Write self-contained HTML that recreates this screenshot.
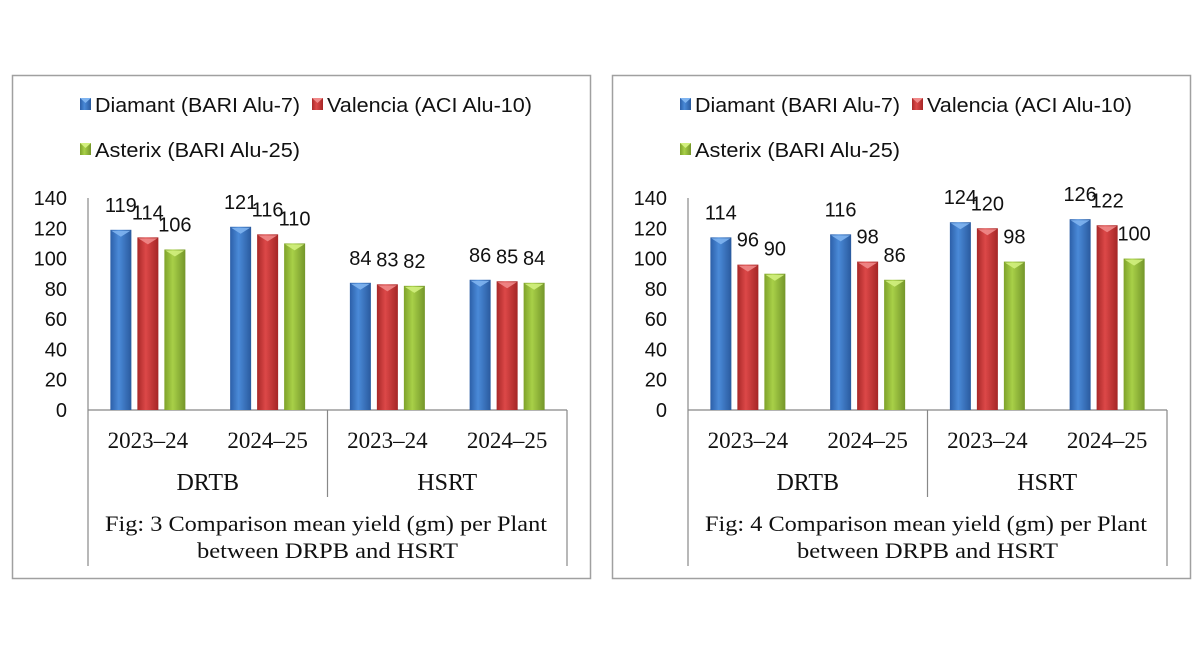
<!DOCTYPE html>
<html><head><meta charset="utf-8"><style>
body{margin:0;background:#fff;width:1201px;height:651px;overflow:hidden;}
svg{display:block}
</style></head><body>
<svg id="s" width="1201" height="651" xmlns="http://www.w3.org/2000/svg">
<defs>
<linearGradient id="gb" x1="0" x2="1"><stop offset="0" stop-color="#2c5fa8"/><stop offset="0.4" stop-color="#4a8ad8"/><stop offset="1" stop-color="#2a5a9e"/></linearGradient>
<linearGradient id="gr" x1="0" x2="1"><stop offset="0" stop-color="#a82828"/><stop offset="0.4" stop-color="#dc4848"/><stop offset="1" stop-color="#a52626"/></linearGradient>
<linearGradient id="gg" x1="0" x2="1"><stop offset="0" stop-color="#7ea22a"/><stop offset="0.4" stop-color="#a8d048"/><stop offset="1" stop-color="#74962a"/></linearGradient>
</defs>
</svg>
<script>
const years=["2023–24","2024–25","2023–24","2024–25"];
const groups=["DRTB","HSRT"];
const seriesNames=["Diamant (BARI Alu-7)","Valencia (ACI Alu-10)","Asterix (BARI Alu-25)"];
const fig3Diamant=[119,121,84,86];
const fig3Valencia=[114,116,83,85];
const fig3Asterix=[106,110,82,84];
const fig4Diamant=[114,116,124,126];
const fig4Valencia=[96,98,120,122];
const fig4Asterix=[90,86,98,100];
const yTicks=[0,20,40,60,80,100,120,140];
const captions=["Fig: 3 Comparison  mean yield (gm) per Plant","Fig: 4 Comparison  mean yield (gm) per Plant"];

const NS="http://www.w3.org/2000/svg";
const svg=document.getElementById('s');
function mk(t,a,p){const e=document.createElementNS(NS,t);for(const k in a)e.setAttribute(k,a[k]);(p||svg).appendChild(e);return e;}
const grads=["url(#gb)","url(#gr)","url(#gg)"];
const tops=["#7fb4f0","#f08a8a","#d2ef7e"];
const SANS='"Liberation Sans", sans-serif', SERIF='"Liberation Serif", serif';

function chart(ox,data,cap,id){
  const g=mk('g',{transform:`translate(${ox},0)`});
  
  
  const border=mk('rect',{x:12.5,y:75.5,width:578,height:503,fill:'none',stroke:'#a0a0a0','stroke-width':1.5},g);
  
  
  const y0=410,y1=198,x0=88,x1=567;
  const ys=v=>y0-(v/140)*(y0-y1);
  const cw=(x1-x0)/years.length;
  const lp=[[80,107],[312,107],[80,152]];
  seriesNames.forEach((n,i)=>{
    const lg=mk('g',{},g);
    
    
    mk('rect',{x:lp[i][0],y:lp[i][1]-9,width:11,height:12,fill:grads[i]},lg);
    mk('polygon',{points:`${lp[i][0]},${lp[i][1]-9} ${lp[i][0]+11},${lp[i][1]-9} ${lp[i][0]+5.5},${lp[i][1]-4}`,fill:tops[i]},lg);
    const t=mk('text',{x:lp[i][0]+15,y:lp[i][1]+5,'font-family':SANS,'font-size':20,fill:'#111',textLength:205,lengthAdjust:'spacingAndGlyphs'},lg);t.textContent=n;
  });
  yTicks.forEach(v=>{
    const t=mk('text',{x:67,y:ys(v)+7,'text-anchor':'end','font-family':SANS,'font-size':20,fill:'#111'},g);t.textContent=v;
    
    
  });
  mk('line',{x1:x0,y1:y1,x2:x0,y2:566,stroke:'#888','stroke-width':1.2},g);
  mk('line',{x1:x0,y1:y0,x2:x1,y2:y0,stroke:'#888','stroke-width':1.2},g);
  mk('line',{x1:x1,y1:y0,x2:x1,y2:566,stroke:'#888','stroke-width':1.2},g);
  mk('line',{x1:(x0+x1)/2,y1:y0,x2:(x0+x1)/2,y2:497,stroke:'#888','stroke-width':1.2},g);
  const bw=21,gap=6;
  years.forEach((yr,c)=>{
    const cx=x0+cw*(c+0.5);
    data.forEach((s,i)=>{
      const bx=cx+(i-1)*(bw+gap)-bw/2, top=ys(s[c]);
      const r=mk('rect',{x:bx,y:top,width:bw,height:y0-top,fill:grads[i]},g);
      
      
      mk('polygon',{points:`${bx+1},${top+1} ${bx+bw-1},${top+1} ${bx+bw/2},${top+7}`,fill:tops[i],opacity:0.9},g);
      const t=mk('text',{x:bx+bw/2,y:top-18,'text-anchor':'middle','font-family':SANS,'font-size':20,fill:'#111'},g);t.textContent=s[c];
      
      
    });
    const t=mk('text',{x:cx,y:448,'text-anchor':'middle','font-family':SERIF,'font-size':23,fill:'#111'},g);t.textContent=yr;
    
    
  });
  groups.forEach((gn,k)=>{
    const t=mk('text',{x:x0+(x1-x0)/4*(2*k+1),y:490,'text-anchor':'middle','font-family':SERIF,'font-size':24,fill:'#111'},g);t.textContent=gn;
    
    
  });
  const c1=mk('text',{x:105,y:531,'font-family':SERIF,'font-size':22,fill:'#111',textLength:442,lengthAdjust:'spacingAndGlyphs'},g);c1.textContent=cap;
  
  
  const c2=mk('text',{x:197,y:558,'font-family':SERIF,'font-size':22,fill:'#111',textLength:261,lengthAdjust:'spacingAndGlyphs'},g);c2.textContent="between  DRPB and HSRT";
  
  
}
chart(0,[fig3Diamant,fig3Valencia,fig3Asterix],captions[0],'fig3-chart');
chart(600,[fig4Diamant,fig4Valencia,fig4Asterix],captions[1],'fig4-chart');
</script>
</body></html>
